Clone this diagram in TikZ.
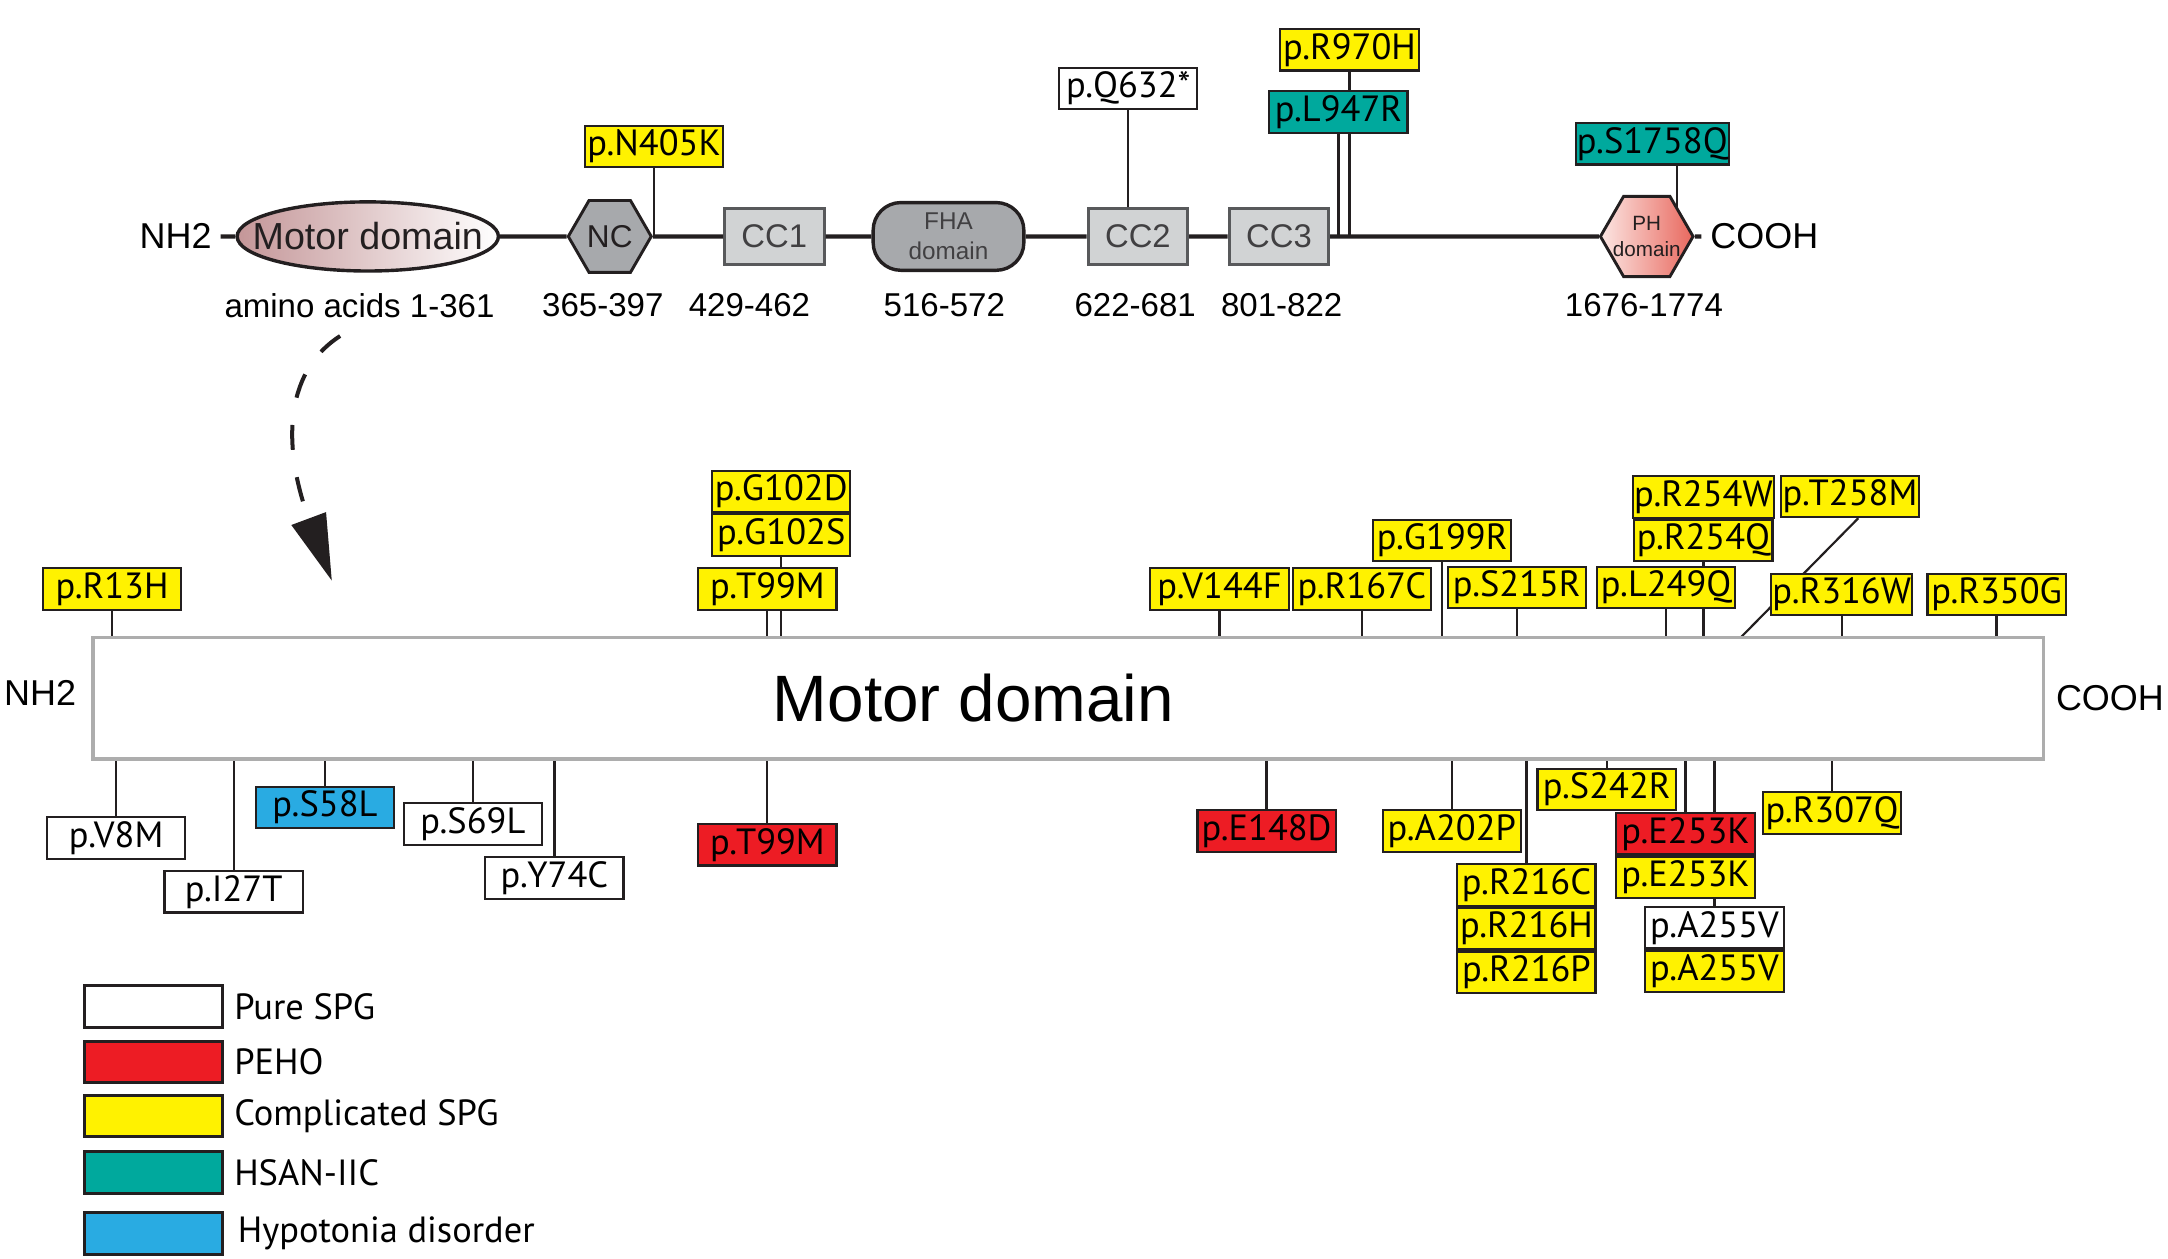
\documentclass[tikz,border=0pt]{standalone}
\usepackage{fontspec}
\setmainfont{Liberation Sans}
\newfontfamily\myriad{PT Sans}
\usetikzlibrary{shapes.geometric, arrows.meta, positioning, backgrounds}
\definecolor{compyel}{HTML}{FFF200}
\definecolor{pehored}{HTML}{ED1C24}
\definecolor{hsanteal}{HTML}{00A99D}
\definecolor{hypoblue}{HTML}{29ABE2}
\definecolor{dark}{HTML}{231F20}
\definecolor{ccgray}{HTML}{D1D3D4}
\definecolor{midgray}{HTML}{A7A9AC}
\definecolor{edgegray}{HTML}{58595B}
\definecolor{txtgray}{HTML}{414042}
\definecolor{boxgray}{HTML}{ADADAD}
\definecolor{mauve}{RGB}{196,150,152}
\definecolor{phred}{HTML}{E8685E}
\definecolor{phpink}{HTML}{FCE6E3}
\tikzstyle{mut} = [rectangle, minimum width=2cm, minimum height=0.6cm, inner sep=0.5pt, text centered, draw=dark, line width=0.9pt, font=\myriad\fontsize{15}{15}\selectfont]
\tikzstyle{pure} = [mut, fill=white]
\tikzstyle{peho} = [mut, fill=pehored]
\tikzstyle{comp} = [mut, fill=compyel]
\tikzstyle{hsan} = [mut, fill=hsanteal]
\tikzstyle{hypo} = [mut, fill=hypoblue]
\tikzstyle{legtext} = [inner sep=0pt, font=\myriad\fontsize{15}{15}\selectfont]
\tikzstyle{cc} = [rectangle, minimum width=1.44cm, minimum height=0.82cm, fill=ccgray, draw=edgegray, line width=1.2pt, text=txtgray, font=\fontsize{13.5}{14}\selectfont]
\tikzstyle{hexa} = [regular polygon, regular polygon sides=6, inner sep=0pt, draw=dark, line width=1.2pt]
\tikzstyle{endlab} = [inner xsep=3.5pt, font=\fontsize{14.8}{15}\selectfont]
\tikzstyle{rng} = [font=\fontsize{13.6}{14}\selectfont]
\tikzstyle{backbone} = [line width=1.7pt, draw=dark]
\tikzstyle{stem} = [line width=0.9pt, draw=dark]
\tikzstyle{zoomarrow} = [line width=1.65pt, draw=dark, dash pattern=on 0.36cm off 0.4cm, -{Triangle[length=0.96cm, width=0.52cm]}]

\begin{document}
\begin{tikzpicture}[x=0.02cm, y=-0.02cm, node distance=0pt]
    \useasboundingbox (0,0) rectangle (1568,910);

    \node (nhtop) [endlab] at (127,171) {NH2};
    \node (motor) [ellipse, minimum width=3.78cm, minimum height=1cm, inner sep=0pt, draw=dark, line width=1.4pt, left color=mauve, right color=white, label={[font=\fontsize{15.5}{16}\selectfont, text=dark]center:Motor domain}] at (266,171) {};
    \node (nc) [hexa, minimum size=1.2cm, fill=midgray, text=dark, font=\fontsize{13}{14}\selectfont] at (441,171) {NC};
    \node (cc1) [cc] at (560,171) {CC1};
    \node (fha) [rectangle, rounded corners=0.4cm, minimum width=2.18cm, minimum height=0.98cm, fill=midgray, draw=dark, line width=1.4pt, text=txtgray, align=center, font=\fontsize{10}{12.5}\selectfont] at (686,171) {FHA\\domain};
    \node (cc2) [cc] at (823,171) {CC2};
    \node (cc3) [cc] at (925,171) {CC3};
    \node (ph) [hexa, minimum size=1.34cm, left color=phpink, right color=phred, label={[font=\fontsize{8.5}{10.8}\selectfont, align=center, text=dark]center:PH\\domain}] at (1191,171) {};
    \node (coohtop) [endlab] at (1276,171) {COOH};
    \draw[backbone] (nhtop) -- (motor) -- (nc) -- (cc1) -- (fha) -- (cc2) -- (cc3) -- (ph) -- (coohtop);

    \node (rmot) [rng] at (260,221) {amino acids 1-361};
    \node (rnc) [rng] at (436,221) {365-397};
    \node (rcc1) [rng] at (542,221) {429-462};
    \node (rfha) [rng] at (683,221) {516-572};
    \node (rcc2) [rng] at (821,221) {622-681};
    \node (rcc3) [rng] at (927,221) {801-822};
    \node (rph) [rng] at (1189,221) {1676-1774};

    \node (n405k) [comp] at (473,106) {p.N405K};
    \node (q632) [pure] at (816,64) {p.Q632*};
    \node (r970h) [comp] at (976,36) {p.R970H};
    \node (l947r) [hsan] at (968,81) {p.L947R};
    \node (s1758q) [hsan] at (1195,104) {p.S1758Q};

    \coordinate (arrstart) at (246,243);
    \coordinate (arrend) at (240,420);
    \draw[zoomarrow] (arrstart) .. controls (204,270) and (205,326) .. (arrend);

    \node (motorbox) [rectangle, minimum width=28.22cm, minimum height=1.76cm, draw=boxgray, line width=1.5pt, fill=white] at (772.5,505) {};
    \node (mdtext) [font=\fontsize{27}{28}\selectfont] at (704,505) {Motor domain};
    \node (nhbot) [endlab] at (29,501) {NH2};
    \node (coohbot) [endlab] at (1526,505) {COOH};

    \node (r13h) [comp] at (81,426) {p.R13H};
    \node (t99m) [comp] at (555,426) {p.T99M};
    \node (g102s) [comp] at (565,387) {p.G102S};
    \node (g102d) [comp, above=of g102s] {p.G102D};
    \node (v144f) [comp] at (882,426) {p.V144F};
    \node (r167c) [comp] at (985,426) {p.R167C};
    \node (g199r) [comp] at (1043,391) {p.G199R};
    \node (s215r) [comp] at (1097,425) {p.S215R};
    \node (l249q) [comp] at (1205,425) {p.L249Q};
    \node (r254q) [comp] at (1232,391) {p.R254Q};
    \node (r254w) [comp, above=of r254q] {p.R254W};
    \node (t258m) [comp] at (1338,359) {p.T258M};
    \node (r316w) [comp] at (1332,430) {p.R316W};
    \node (r350g) [comp] at (1444,430) {p.R350G};
    \coordinate (tfoot) at (1259,461);

    \node (v8m) [pure] at (84,606) {p.V8M};
    \node (i27t) [pure] at (169,645) {p.I27T};
    \node (s58l) [hypo] at (235,584) {p.S58L};
    \node (s69l) [pure] at (342,596) {p.S69L};
    \node (y74c) [pure] at (401,635) {p.Y74C};
    \node (t99mb) [peho] at (555,611) {p.T99M};
    \node (e148d) [peho] at (916,601) {p.E148D};
    \node (a202p) [comp] at (1050,601) {p.A202P};
    \node (s242r) [comp] at (1162,571) {p.S242R};
    \node (r216c) [comp] at (1104,640) {p.R216C};
    \node (r216h) [comp, below=of r216c] {p.R216H};
    \node (r216p) [comp, below=of r216h] {p.R216P};
    \node (e253k) [peho] at (1219,603) {p.E253K};
    \node (e253kb) [comp, below=of e253k] {p.E253K};
    \node (a255v) [pure] at (1240,671) {p.A255V};
    \node (a255vb) [comp, below=of a255v] {p.A255V};
    \node (r307q) [comp] at (1325,588) {p.R307Q};

    \node (lpure) [pure, line width=1.2pt] at (111,728) {};
    \node (lpeho) [peho, line width=1.2pt] at (111,768) {};
    \node (lcomp) [comp, line width=1.2pt] at (111,807) {};
    \node (lhsan) [hsan, line width=1.2pt] at (111,848) {};
    \node (lhypo) [hypo, line width=1.2pt] at (111,892) {};
    \node (tpure) [legtext, right=4pt of lpure] {Pure SPG};
    \node (tpeho) [legtext, right=4pt of lpeho] {PEHO};
    \node (tcomp) [legtext, right=4pt of lcomp] {Complicated SPG};
    \node (thsan) [legtext, right=4pt of lhsan] {HSAN-IIC};
    \node (thypo) [legtext, right=5.5pt of lhypo] {Hypotonia disorder};

    \begin{pgfonlayer}{background}
        \draw[stem] (n405k.south) -- (n405k.south |- nc.east);
        \draw[stem] (q632.south) -- (q632.south |- cc2.north);
        \draw[stem] (r970h.south) -- (r970h.south |- cc3.east);
        \draw[stem] (l947r.south) -- (l947r.south |- cc3.east);
        \draw[stem] ([xshift=10.2pt]s1758q.south) -- ++(0,40);

        \draw[stem] (r13h.south) -- (r13h.south |- motorbox.north);
        \draw[stem] (t99m.south) -- (t99m.south |- motorbox.north);
        \draw[stem] (g102s.south) -- (g102s.south |- motorbox.north);
        \draw[stem] (v144f.south) -- (v144f.south |- motorbox.north);
        \draw[stem] (r167c.south) -- (r167c.south |- motorbox.north);
        \draw[stem] (g199r.south) -- (g199r.south |- motorbox.north);
        \draw[stem] (s215r.south) -- (s215r.south |- motorbox.north);
        \draw[stem] (l249q.south) -- (l249q.south |- motorbox.north);
        \draw[stem] (r254q.south) -- (r254q.south |- motorbox.north);
        \draw[stem] ([xshift=3.4pt]t258m.south) -- (tfoot);
        \draw[stem] (r316w.south) -- (r316w.south |- motorbox.north);
        \draw[stem] (r350g.south) -- (r350g.south |- motorbox.north);

        \draw[stem] (v8m.north) -- (v8m.north |- motorbox.south);
        \draw[stem] (i27t.north) -- (i27t.north |- motorbox.south);
        \draw[stem] (s58l.north) -- (s58l.north |- motorbox.south);
        \draw[stem] (s69l.north) -- (s69l.north |- motorbox.south);
        \draw[stem] (y74c.north) -- (y74c.north |- motorbox.south);
        \draw[stem] (t99mb.north) -- (t99mb.north |- motorbox.south);
        \draw[stem] (e148d.north) -- (e148d.north |- motorbox.south);
        \draw[stem] (a202p.north) -- (a202p.north |- motorbox.south);
        \draw[stem] (s242r.north) -- (s242r.north |- motorbox.south);
        \draw[stem] (r216c.north) -- (r216c.north |- motorbox.south);
        \draw[stem] (e253k.north) -- (e253k.north |- motorbox.south);
        \draw[stem] (a255v.north) -- (a255v.north |- motorbox.south);
        \draw[stem] (r307q.north) -- (r307q.north |- motorbox.south);
    \end{pgfonlayer}
\end{tikzpicture}
\end{document}
